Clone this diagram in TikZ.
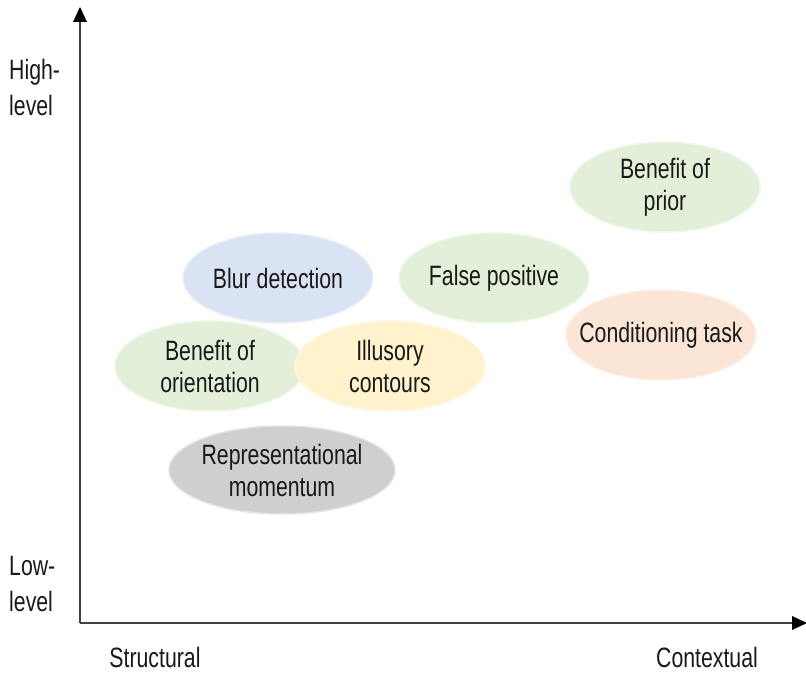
\documentclass[tikz,border=0pt]{standalone}
\usepackage{fontspec}
\setmainfont[FakeStretch=0.76]{Liberation Sans}
\usetikzlibrary{arrows.meta,shapes.geometric}
\definecolor{cblue}{HTML}{DAE3F3}
\definecolor{cgreen}{HTML}{E2F0D9}
\definecolor{cyellow}{HTML}{FFF2CC}
\definecolor{corange}{HTML}{FBE5D6}
\definecolor{cgray}{HTML}{D0CECE}
\definecolor{axisgray}{HTML}{404040}
\tikzset{
  blob/.style={ellipse, inner sep=0pt, minimum width=190pt, minimum height=90pt, line width=1.5pt},
  txt/.style={inner sep=0pt, align=center, text=black!90, font=\fontsize{28}{32}\selectfont},
  lbl/.style={inner sep=0pt, align=left, text=black!90, font=\fontsize{28}{36}\selectfont},
  axis/.style={draw=axisgray, line width=1.3pt, -{Triangle[length=15pt,width=14pt,fill=black,line width=0pt]}}
}
\begin{document}
\begin{tikzpicture}[x=1pt,y=1pt]
\useasboundingbox (0,0) rectangle (806,673);
\coordinate (o) at (80,50);
\coordinate (ytop) at (80,666);
\coordinate (xend) at (807,50);
\draw[axis] (o) -- (ytop);
\draw[axis] (o) -- (xend);
\node[lbl, anchor=west] (high) at (9,586) {High-\\level};
\node[lbl, anchor=west] (low) at (9,89) {Low-\\level};
\node[lbl] (struct) at (155,16) {Structural};
\node[lbl] (context) at (707,16) {Contextual};
\node[blob, fill=cblue, draw=cblue!60!white, label={[txt]center:Blur detection}] (blur) at (278,395) {};
\node[blob, fill=cgreen, draw=cgreen!60!white, label={[txt]center:False positive}] (fp) at (494,395) {};
\node[blob, fill=cgreen, draw=cgreen!60!white, label={[txt]center:{Benefit of\\prior}}] (prior) at (665,486) {};
\node[blob, fill=corange, draw=corange!60!white, label={[txt]center:Conditioning task}] (cond) at (661,338) {};
\node[blob, fill=cgreen, draw=cgreen!60!white, label={[txt]center:{Benefit of\\orientation}}] (orient) at (210,307) {};
\node[blob, fill=cyellow, draw=cyellow!60!white, label={[txt]center:{Illusory\\contours}}] (ill) at (390,307) {};
\node[blob, fill=cgray, draw=cgray!60!white, minimum width=226pt, minimum height=88pt, label={[txt]center:{Representational\\momentum}}] (rep) at (282,203) {};
\end{tikzpicture}
\end{document}
